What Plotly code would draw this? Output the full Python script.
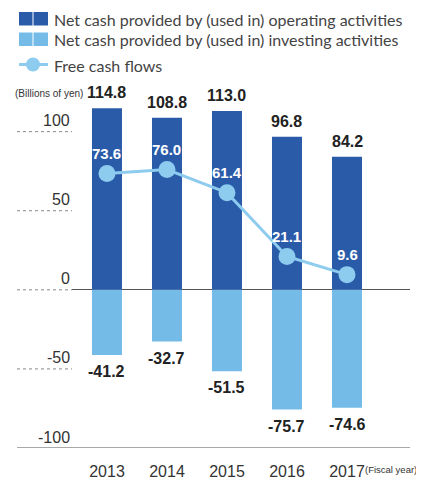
import plotly.graph_objects as go

years = ["2013", "2014", "2015", "2016", "2017"]
operating = [114.8, 108.8, 113.0, 96.8, 84.2]
investing = [-41.2, -32.7, -51.5, -75.7, -74.6]
free_cf = [73.6, 76.0, 61.4, 21.1, 9.6]
y_ticks = [100, 50, 0, -50, -100]
legend_names = [
    "Net cash provided by (used in) operating activities",
    "Net cash provided by (used in) investing activities",
    "Free cash flows",
]

# page body has an 8px margin; size the figure so it fits the 424x481 window
OFF = 8
W, H = 424 - OFF, 481 - OFF
DARK = "#2a5ba9"
LIGHT = "#74bce7"
LINEC = "#8dcbef"
NUMF = "Liberation Sans, Arial, sans-serif"

xpos = list(range(len(years)))


def px(x):
    return (x - OFF) / W


def py(y):
    return (H - (y - OFF)) / H


fig = go.Figure()
fig.add_trace(go.Bar(x=xpos, y=operating, width=0.5, marker=dict(color=DARK, line=dict(width=0)),
                     name=legend_names[0], showlegend=False))
fig.add_trace(go.Bar(x=xpos, y=investing, width=0.5, marker=dict(color=LIGHT, line=dict(width=0)),
                     name=legend_names[1], showlegend=False))
fig.add_trace(go.Scatter(x=xpos, y=free_cf, mode="lines+markers", name=legend_names[2],
                         line=dict(color=LINEC, width=3),
                         marker=dict(size=17, color=LINEC), showlegend=False))

anns = []
shapes = []
for xi, v in zip(xpos, operating):
    anns.append(dict(x=xi, y=v, text=f"<b>{v:.1f}</b>", showarrow=False, yanchor="bottom", yshift=5,
                     font=dict(family=NUMF, size=16, color="#222222")))
for xi, v in zip(xpos, investing):
    anns.append(dict(x=xi, y=v, text=f"<b>{v:.1f}</b>", showarrow=False, yanchor="top", yshift=-6,
                     font=dict(family=NUMF, size=16, color="#222222")))
for xi, v in zip(xpos, free_cf):
    anns.append(dict(x=xi, y=v, text=f"<b>{v:.1f}</b>", showarrow=False, yanchor="middle", yshift=20,
                     font=dict(family=NUMF, size=15, color="#ffffff")))

for t in y_ticks:
    anns.append(dict(xref="paper", x=px(72), y=t, text=str(t), showarrow=False, xanchor="right",
                     yanchor="middle", yshift=11,
                     font=dict(family=NUMF, size=16, color="#333333")))
    if t != -100:
        shapes.append(dict(type="line", xref="paper", x0=px(17), x1=px(72), y0=t, y1=t,
                           line=dict(color="#888888", width=1, dash="dot")))

shapes.append(dict(type="line", xref="paper", x0=px(17), x1=px(410), y0=-100, y1=-100,
                   line=dict(color="#555555", width=1.2)))

anns.append(dict(xref="paper", yref="paper", x=px(13), y=py(93), text="(Billions of yen)",
                 showarrow=False, xanchor="left", yanchor="middle",
                 font=dict(family=NUMF, size=10, color="#333333")))
anns.append(dict(xref="paper", yref="paper", x=px(419), y=py(469), text="(Fiscal year)",
                 showarrow=False, xanchor="right", yanchor="middle",
                 font=dict(family=NUMF, size=9.5, color="#333333")))

# custom legend
for i, c in enumerate([DARK, LIGHT]):
    y0, y1 = [(12, 25.5), (32.5, 46)][i]
    for xa, xb in [(19, 32.5), (33.5, 48)]:
        shapes.append(dict(type="rect", xref="paper", yref="paper", x0=px(xa), x1=px(xb),
                           y0=py(y1), y1=py(y0), fillcolor=c, line=dict(width=0)))
shapes.append(dict(type="line", xref="paper", yref="paper", x0=px(19), x1=px(48), y0=py(64.5), y1=py(64.5),
                   line=dict(color=LINEC, width=3)))
shapes.append(dict(type="circle", xref="paper", yref="paper", x0=px(26), x1=px(40), y0=py(71.5), y1=py(57.5),
                   fillcolor=LINEC, line=dict(width=0)))
for name, yc in zip(legend_names, [19, 40, 65]):
    anns.append(dict(xref="paper", yref="paper", x=px(52), y=py(yc), text=name, showarrow=False,
                     xanchor="left", yanchor="middle",
                     font=dict(family="Lato, sans-serif", size=16, color="#444444")))

fig.update_layout(
    width=W, height=H,
    margin=dict(l=0, r=0, t=0, b=0),
    paper_bgcolor="white", plot_bgcolor="white",
    barmode="overlay",
    showlegend=False,
    annotations=anns,
    shapes=shapes,
    xaxis=dict(domain=[px(72), px(410)], range=[-0.583, 5.05],
               tickmode="array", tickvals=xpos, ticktext=years,
               showgrid=False, zeroline=False, showline=False,
               ticks="outside", ticklen=9, tickcolor="rgba(0,0,0,0)",
               tickfont=dict(family=NUMF, size=16, color="#333333")),
    yaxis=dict(domain=[py(448), py(100)], range=[-100, 120], showgrid=False,
               zeroline=True, zerolinecolor="#555555", zerolinewidth=1.2,
               showticklabels=False, showline=False),
)

fig.write_html("out.html")
